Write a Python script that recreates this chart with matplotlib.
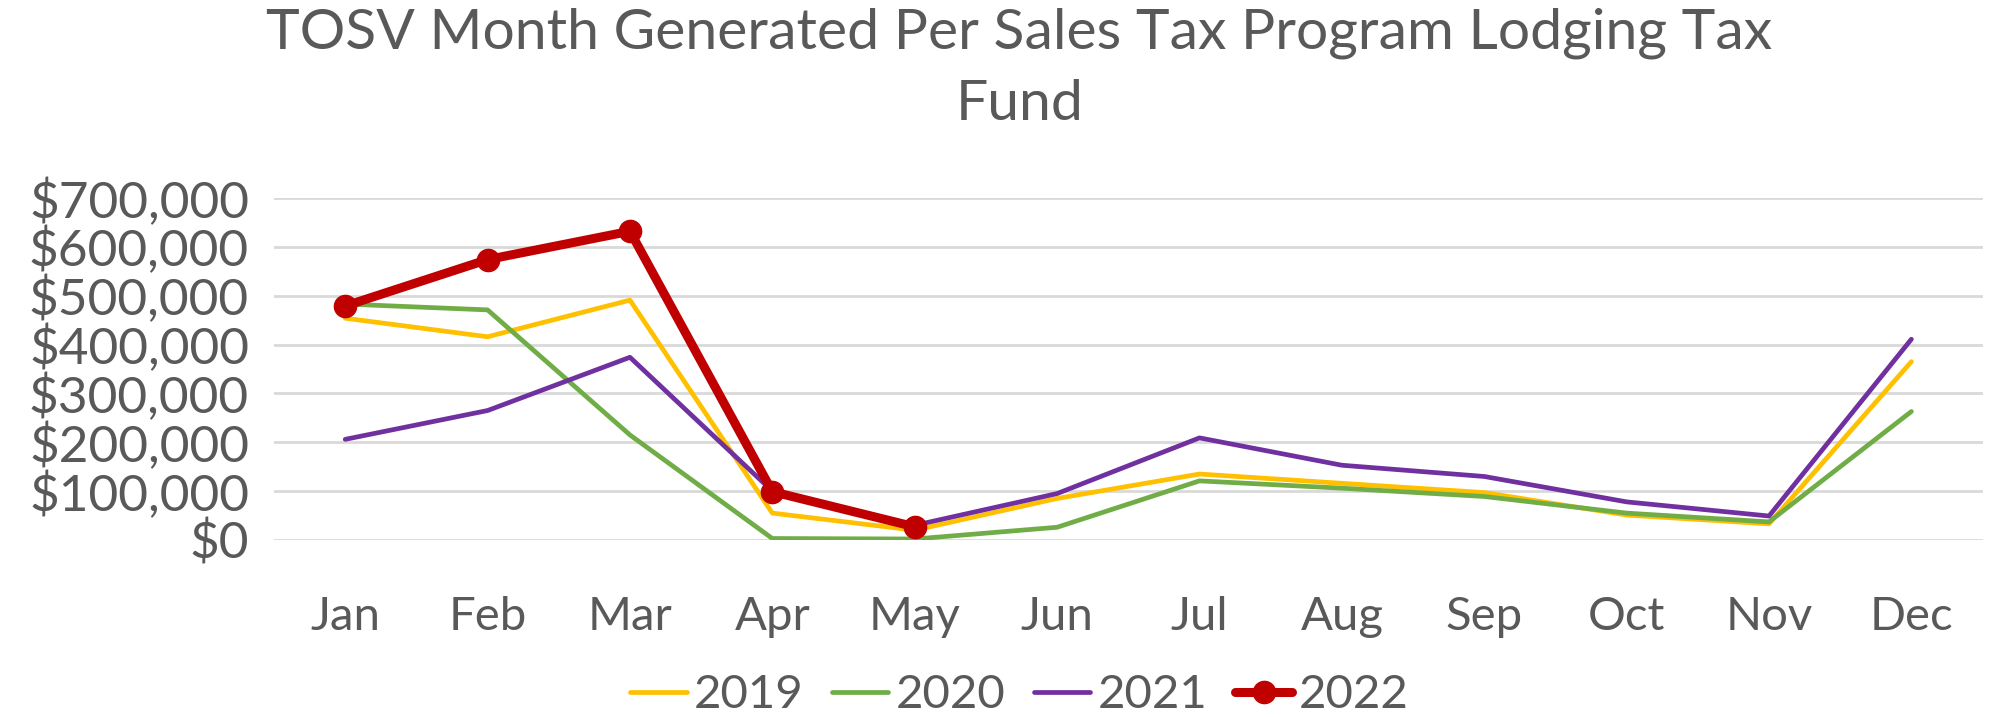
import matplotlib.pyplot as plt
from matplotlib.ticker import FuncFormatter

months = ["Jan", "Feb", "Mar", "Apr", "May", "Jun", "Jul", "Aug", "Sep", "Oct", "Nov", "Dec"]
y2019 = [454000, 416000, 491000, 55000, 20000, 85000, 135000, 116000, 97000, 51000, 33000, 365000]
y2020 = [483000, 471000, 215000, 3000, 2000, 26000, 121000, 106000, 89000, 55000, 37000, 263000]
y2021 = [206000, 265000, 374000, 100000, 30000, 95000, 209000, 153000, 130000, 78000, 49000, 411000]
y2022 = [479000, 574000, 632000, 99000, 27000]

txt = "#595959"
plt.rcParams['font.family'] = ['Lato', 'DejaVu Sans']

fig = plt.figure(figsize=(20.03, 7.17), dpi=100)
ax = fig.add_axes([0.1368, 0.2469, 0.853, 0.4769])

x = list(range(len(months)))
ax.plot(x, y2019, color="#FFC000", lw=3.4, label="2019", solid_capstyle="round")
ax.plot(x, y2020, color="#70AD47", lw=3.4, label="2020", solid_capstyle="round")
ax.plot(x, y2021, color="#7030A0", lw=3.4, label="2021", solid_capstyle="round")
ax.plot(x[:len(y2022)], y2022, color="#C00000", lw=6.5, marker="o", markersize=16,
        label="2022", solid_capstyle="round")

ax.set_xlim(-0.5, 11.5)
ax.set_ylim(0, 700000)
ax.set_yticks(range(0, 700001, 100000))
ax.yaxis.set_major_formatter(FuncFormatter(lambda v, p: "${:,.0f}".format(v)))
ax.set_xticks(x)
ax.set_xticklabels(months)
ax.grid(axis="y", color="#D9D9D9", lw=2)
ax.set_axisbelow(True)
for s in ax.spines.values():
    s.set_visible(False)
ax.tick_params(length=0, colors=txt)
ax.tick_params(axis="y", labelsize=37, pad=18)
ax.tick_params(axis="x", labelsize=34, pad=40)

fig.suptitle("TOSV Month Generated Per Sales Tax Program Lodging Tax\nFund",
             x=0.509, y=0.99, fontsize=41, color=txt, linespacing=1.5)

fig.legend(loc="center", bbox_to_anchor=(0.509, 0.03), ncol=4, frameon=False,
           fontsize=34, labelcolor=txt, handlelength=1.2, handletextpad=0.15,
           columnspacing=0.6)

fig.savefig("out.png", dpi=100)
